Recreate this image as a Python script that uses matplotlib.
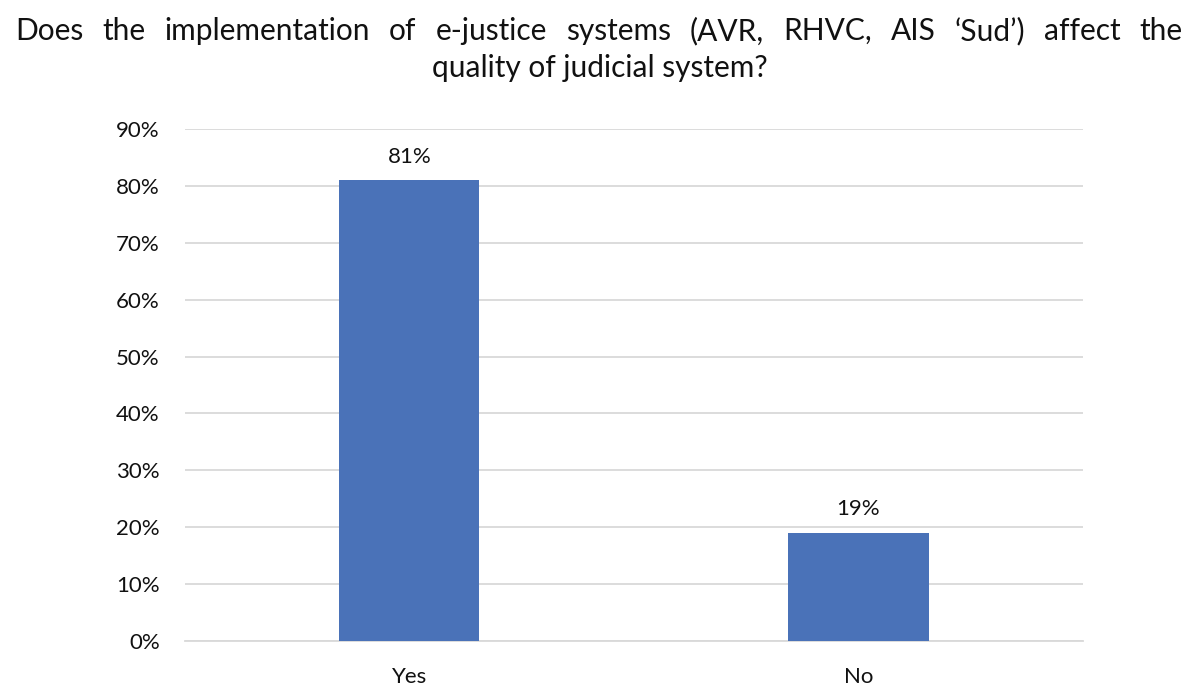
import matplotlib
matplotlib.use("Agg")
import matplotlib.pyplot as plt
import numpy as np

categories = ["Yes", "No"]
values = [81, 19]
yticks = [0, 10, 20, 30, 40, 50, 60, 70, 80, 90]

plt.rcParams['font.family'] = ['Lato', 'DejaVu Sans']

fig = plt.figure(figsize=(12, 6.99), dpi=100)
ax = fig.add_axes([0.154, 0.083, 0.7485, 0.7325])

x = np.arange(len(categories))
ax.bar(x, values, width=0.312, color="#4A72B8", zorder=3)
for xi, v in zip(x, values):
    ax.text(xi, v + 2.4, f"{v}%", ha="center", va="bottom", fontsize=16, color="#111111")

ax.set_xlim(-0.5, 1.5)
ax.set_ylim(0, 90)
ax.set_yticks(yticks)
ax.set_yticklabels([f"{t}%" for t in yticks], fontsize=16, color="#111111")
ax.set_xticks(x)
ax.set_xticklabels(categories, fontsize=16, color="#111111")
ax.tick_params(axis="y", length=0, pad=18)
ax.tick_params(axis="x", length=0, pad=19)
ax.grid(axis="y", color="#d9d9d9", linewidth=1.3, zorder=0)
for s in ["top", "right", "left"]:
    ax.spines[s].set_visible(False)
ax.spines["bottom"].set_color("#d9d9d9")
ax.spines["bottom"].set_linewidth(1.3)

# title: first line justified across the figure width
line1 = "Does the implementation of e-justice systems (AVR, RHVC, AIS \u2018Sud\u2019) affect the".split()
line2 = "quality of judicial system?"
fs_title = 21.5
y1 = 1 - 31 / 699
fig.canvas.draw()
r = fig.canvas.get_renderer()
words = [fig.text(0, y1, w, fontsize=fs_title, va="center", ha="left", color="#111111") for w in line1]
widths = [t.get_window_extent(r).width for t in words]
left, right = 15, 1183
gap = (right - left - sum(widths)) / (len(words) - 1)
xpos = left
for t, w in zip(words, widths):
    t.set_x(xpos / 1200)
    xpos += w + gap
fig.text(0.5, 1 - 68 / 699, line2, fontsize=fs_title, va="center", ha="center", color="#111111")

fig.savefig("out.png", dpi=100)
